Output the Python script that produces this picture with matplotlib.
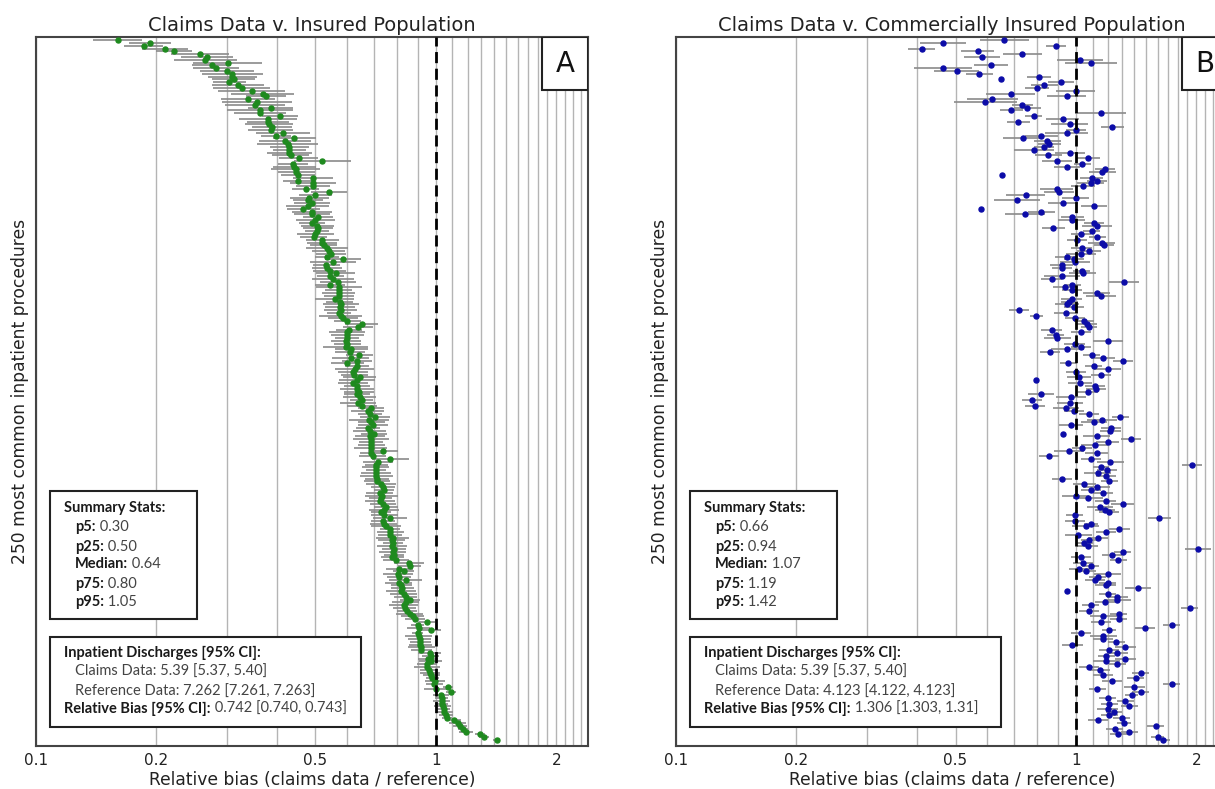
import matplotlib
matplotlib.use('Agg')
import matplotlib.pyplot as plt
from matplotlib.patches import Rectangle
import numpy as np

# relative bias per procedure, panel A (claims data v. insured population)
bias_a = [
    0.160, 0.193, 0.186, 0.210, 0.221, 0.257, 0.268, 0.265, 0.302, 0.275,
    0.282, 0.300, 0.310, 0.310, 0.312, 0.304, 0.320, 0.327, 0.346, 0.369,
    0.376, 0.339, 0.357, 0.353, 0.386, 0.363, 0.363, 0.407, 0.380, 0.380,
    0.383, 0.389, 0.386, 0.415, 0.399, 0.443, 0.420, 0.426, 0.430, 0.430,
    0.430, 0.433, 0.454, 0.520, 0.440, 0.443, 0.446, 0.448, 0.452, 0.493,
    0.452, 0.493, 0.493, 0.473, 0.540, 0.500, 0.483, 0.480, 0.490, 0.478,
    0.466, 0.490,
    0.490, 0.508, 0.500, 0.490, 0.505, 0.508, 0.505, 0.500, 0.495, 0.520,
    0.518, 0.524, 0.535, 0.540, 0.547, 0.535, 0.585, 0.553, 0.532, 0.535,
    0.543, 0.562, 0.545, 0.553, 0.568, 0.543, 0.572, 0.572, 0.572, 0.572,
    0.558, 0.575, 0.578, 0.575, 0.578, 0.572, 0.578, 0.585, 0.600, 0.653,
    0.640, 0.606, 0.600, 0.600, 0.600, 0.595, 0.600, 0.595, 0.615, 0.610,
    0.643, 0.612, 0.635, 0.600, 0.635, 0.627, 0.620, 0.625, 0.645, 0.635,
    0.620, 0.635, 0.635,
    0.643, 0.635, 0.645, 0.652, 0.640, 0.652, 0.688, 0.676, 0.684, 0.703,
    0.680, 0.690, 0.695, 0.676, 0.684, 0.700, 0.684, 0.688, 0.688, 0.690,
    0.688, 0.737, 0.690, 0.695, 0.770, 0.716, 0.710, 0.707, 0.707, 0.710,
    0.710, 0.712, 0.712, 0.730, 0.737, 0.743, 0.724, 0.733, 0.727, 0.724,
    0.737, 0.750, 0.740, 0.730, 0.743, 0.768, 0.737, 0.740, 0.750, 0.768,
    0.770, 0.767, 0.780, 0.776, 0.780, 0.778, 0.786, 0.780, 0.787, 0.778,
    0.795, 0.857,
    0.860, 0.810, 0.830, 0.804, 0.808, 0.840, 0.808, 0.820, 0.825, 0.820,
    0.830, 0.840, 0.860, 0.840, 0.830, 0.835, 0.847, 0.860, 0.875, 0.885,
    0.950, 0.900, 0.905, 0.970, 0.900, 0.905, 0.910, 0.915, 0.915, 0.920,
    0.920, 0.965, 0.970, 0.955, 0.970, 0.952, 0.950, 0.960, 0.965, 0.975,
    0.980, 0.995, 0.990, 1.070, 1.000, 1.090, 1.030, 1.033, 1.035, 1.033,
    1.040, 1.045, 1.050, 1.060, 1.065, 1.110, 1.135, 1.150, 1.170, 1.190,
    1.290, 1.320, 1.420,
]
# CI half-width, percent (multiplicative)
err_a = [
    15, 13, 12, 14, 11, 18, 16, 20, 22, 12, 14, 17, 19, 15, 13, 10, 16, 18, 21, 20,
    12, 17, 22, 19, 14, 21, 16, 11, 18, 13, 15, 12, 14, 17, 9, 13, 16, 19, 12, 10,
    14, 11, 12, 18, 9, 13, 15, 11, 10, 12, 9, 14, 10, 8, 11, 10, 12, 9, 11, 13,
    10, 12,
    11, 9, 12, 8, 10, 9, 7, 11, 8, 10, 9, 8, 13, 10, 9, 7, 11, 14, 8, 9,
    10, 12, 8, 13, 11, 9, 14, 8, 10, 9, 12, 8, 11, 9, 10, 7, 13, 9, 8, 10,
    9, 8, 11, 10, 7, 9, 8, 14, 10, 9, 8, 11, 9, 10, 7, 12, 9, 8, 10, 11,
    9, 8, 10,
    9, 8, 10, 7, 11, 9, 8, 10, 7, 9, 12, 8, 9, 7, 10, 8, 9, 11, 7, 8,
    10, 9, 7, 8, 11, 9, 7, 8, 6, 9, 10, 7, 8, 9, 7, 6, 8, 10, 7, 9,
    8, 7, 9, 6, 8, 10, 7, 8, 9, 6, 8, 7, 10, 8, 6, 9, 7, 8, 6, 7,
    8, 9,
    7, 8, 6, 9, 7, 10, 8, 6, 7, 9, 8, 7, 6, 8, 9, 7, 6, 8, 7, 6,
    5, 4, 7, 6, 3, 8, 7, 6, 7, 8, 6, 7, 5, 6, 7, 6, 8, 5, 6, 5,
    4, 6, 5, 3, 7, 3, 5, 4, 5, 4, 5, 4, 5, 4, 3, 4, 5, 4, 3, 4,
    3, 3, 2,
]

# panel B (claims data v. commercially insured population), same procedure order
bias_b = [
    0.662, 0.465, 0.891, 0.411, 0.568, 0.735, 0.581, 1.025, 1.092, 0.613,
    0.465, 0.503, 0.573, 0.808, 0.648, 0.917, 0.833, 0.800, 0.998, 0.687,
    0.948, 0.618, 0.594, 0.735, 0.755, 0.690, 1.153, 0.785, 0.926, 0.718,
    0.964, 1.233, 1.000, 0.948, 0.818, 0.738, 0.848, 0.858, 0.833, 0.785,
    0.966, 0.853, 1.073, 0.898, 1.037, 0.950, 1.180, 1.164, 0.654, 1.094,
    1.127, 1.089, 1.042, 0.895, 0.907, 0.749, 0.998, 0.713, 0.929, 1.110,
    0.579, 0.820,
    0.745, 0.979, 0.975, 1.109, 1.130, 0.878, 1.094, 1.028, 1.130, 1.008,
    1.159, 1.175, 1.033, 1.079, 1.028, 0.948, 0.989, 0.994, 0.921, 0.924,
    1.033, 1.039, 0.921, 0.869, 1.320, 0.979, 0.940, 0.979, 1.127, 1.153,
    0.975, 0.962, 0.951, 0.990, 0.721, 0.944, 0.796, 0.996, 1.047, 1.063,
    1.078, 0.869, 1.028, 0.891, 0.898, 1.200, 0.992, 1.028, 0.951, 0.861,
    1.094, 1.170, 1.313, 0.957, 1.109, 1.200, 1.000, 1.157, 1.017, 0.794,
    1.025, 1.115,
    1.120, 1.074, 0.818, 0.972, 0.778, 0.966, 0.790, 0.944, 0.989, 1.078,
    1.290, 1.159, 1.110, 0.973, 1.223, 1.220, 0.926, 1.127, 1.373, 1.200,
    1.115, 1.037, 0.960, 1.127, 0.858, 1.090, 1.218, 1.950, 1.155, 1.196,
    1.133, 1.190, 0.921, 1.211, 1.049, 1.127, 1.090, 1.170, 0.998, 1.069,
    1.186, 1.309, 1.148, 1.180, 1.210, 0.994, 1.616, 0.994, 1.090, 1.058,
    1.285, 1.190, 1.013, 1.133, 1.078, 1.049, 1.069, 2.020, 1.310, 1.233,
    1.030, 1.276, 1.040,
    1.090, 1.020, 1.060, 1.200, 1.133, 1.115, 1.200, 1.186, 1.430, 0.948,
    1.200, 1.270, 1.270, 1.180, 1.090, 1.923, 1.080, 1.280, 1.170, 1.280,
    1.155, 1.734, 1.488, 1.210, 1.030, 1.170, 1.170, 1.260, 0.980, 1.330,
    1.210, 1.270, 1.190, 1.330, 1.190, 1.270, 1.080, 1.148, 1.454, 1.170,
    1.410, 1.230, 1.734, 1.400, 1.130, 1.454, 1.377, 1.200, 1.330, 1.210,
    1.360, 1.200, 1.245, 1.210, 1.300, 1.133, 1.320, 1.585, 1.250, 1.360,
    1.276, 1.600, 1.653,
]
err_b = [
    15, 14, 6, 8, 10, 12, 11, 14, 16, 10, 18, 14, 8, 7, 0, 8, 8, 7, 12, 15,
    12, 16, 20, 6, 8, 7, 16, 5, 10, 7, 11, 7, 6, 13, 10, 12, 8, 7, 6, 12,
    9, 8, 7, 9, 5, 8, 6, 8, 0, 7, 6, 8, 7, 10, 9, 12, 8, 14, 9, 8,
    0, 8,
    12, 7, 8, 6, 9, 7, 5, 6, 5, 6, 8, 6, 6, 7, 9, 7, 6, 9, 7, 6,
    5, 8, 11, 6, 9, 5, 7, 6, 8, 9, 6, 5, 7, 6, 6, 7, 4, 6, 6, 6,
    5, 6, 6, 5, 8, 9, 6, 6, 10, 6, 5, 7, 6, 5, 5, 8, 6, 6, 7, 0,
    7, 6,
    6, 6, 8, 9, 6, 8, 6, 8, 6, 6, 5, 9, 8, 7, 6, 6, 0, 8, 6, 7,
    8, 6, 9, 7, 6, 6, 8, 6, 5, 6, 8, 6, 6, 5, 7, 8, 6, 6, 8, 9,
    6, 7, 8, 6, 6, 5, 7, 6, 4, 8, 6, 6, 8, 6, 5, 5, 6, 8, 5, 6,
    6, 5, 6,
    5, 6, 6, 8, 5, 6, 5, 6, 8, 0, 5, 6, 8, 6, 5, 5, 6, 5, 8, 5,
    6, 5, 6, 4, 6, 8, 6, 5, 6, 6, 6, 6, 5, 6, 8, 5, 6, 6, 5, 6,
    5, 6, 5, 6, 5, 5, 4, 5, 5, 5, 5, 6, 5, 5, 5, 6, 4, 5, 5, 5,
    5, 4, 4,
]

titles = ['Claims Data v. Insured Population', 'Claims Data v. Commercially Insured Population']
panel_letters = ['A', 'B']
colors = ['#1f8a1f', '#0c0ca8']
stats_labels = ['p5:', 'p25:', 'Median:', 'p75:', 'p95:']
stats_a = ['0.30', '0.50', '0.64', '0.80', '1.05']
stats_b = ['0.66', '0.94', '1.07', '1.19', '1.42']
claims_text = ['Claims Data: 5.39 [5.37, 5.40]', 'Claims Data: 5.39 [5.37, 5.40]']
ref_text = ['Reference Data: 7.262 [7.261, 7.263]', 'Reference Data: 4.123 [4.122, 4.123]']
rel_bias = ['0.742 [0.740, 0.743]', '1.306 [1.303, 1.31]']

tick_vals = [0.1, 0.2, 0.5, 1, 2]
tick_labels = ['0.1', '0.2', '0.5', '1', '2']
grid_vals = [0.2, 0.3, 0.4, 0.5, 0.6, 0.7, 0.8, 0.9, 1.0, 1.1, 1.2, 1.3, 1.4, 1.5,
             1.6, 1.7, 1.8, 1.9, 2.0, 2.1, 2.2, 2.3]

box_font = 'Lato'
txt_col = '#1a1a1a'
val_col = '#444444'
box_size = 10.5


def label_value(ax, x, y, label, value, bold=True):
    t = ax.text(x, y, label, transform=ax.transAxes, fontsize=box_size, family=box_font,
                fontweight='bold' if bold else 'normal',
                color=txt_col if bold else val_col, va='center', zorder=6)
    if value:
        ax.annotate(' ' + value, xy=(1, 0), xycoords=t, va='bottom', ha='left',
                    fontsize=box_size, family=box_font, color=val_col, zorder=6)


fig = plt.figure(figsize=(12.15, 7.89), dpi=100)
axes = [fig.add_axes([0.0296, 0.0545, 0.4543, 0.8986]),
        fig.add_axes([0.5564, 0.0545, 0.4543, 0.8986])]

data = [(bias_a, err_a, stats_a), (bias_b, err_b, stats_b)]
for k, ax in enumerate(axes):
    vals, errs, stats = data[k]
    vals = np.array(vals)
    p = np.array(errs) / 100.0
    ypos = np.arange(len(vals))
    lo = vals - vals / (1 + p)
    hi = vals * (1 + p) - vals
    ax.errorbar(vals, ypos, xerr=[lo, hi], fmt='none', ecolor='#8a8a8a', elinewidth=1.2,
                capsize=0, zorder=2)
    ax.plot(vals, ypos, 'o', color=colors[k], ms=3.6, mec=colors[k], zorder=3)

    ax.set_xscale('log')
    ax.set_xlim(0.1, 2.4)
    ax.set_ylim(251.1, -1.1)
    ax.set_xticks(tick_vals)
    ax.set_xticklabels(tick_labels)
    ax.set_xticks(grid_vals, minor=True)
    ax.xaxis.set_minor_formatter(plt.NullFormatter())
    ax.tick_params(axis='x', which='both', length=0, labelsize=11, pad=5, colors='#222222')
    ax.set_yticks([])
    ax.grid(True, axis='x', which='both', color='#b4b4b4', lw=1.0, zorder=0)
    ax.set_axisbelow(True)
    ax.axvline(1.0, color='black', lw=2, ls=(0, (4, 2)), zorder=4)
    for s in ax.spines.values():
        s.set_color('#444444')
        s.set_linewidth(1.5)

    ax.set_title(titles[k], fontsize=14, pad=4, color='#222222')
    ax.set_xlabel('Relative bias (claims data / reference)', fontsize=12.3, labelpad=2,
                  color='#222222')
    ax.set_ylabel('250 most common inpatient procedures', fontsize=12.3, labelpad=5,
                  color='#222222')

    # panel letter box
    ax.add_patch(Rectangle((0.917, 0.925), 0.083, 0.075, transform=ax.transAxes,
                           facecolor='white', edgecolor='#222222', lw=1.5, zorder=5))
    ax.text(0.9585, 0.9625, panel_letters[k], transform=ax.transAxes, fontsize=20,
            ha='center', va='center', color='#111111', zorder=6)

    # summary stats box
    ax.add_patch(Rectangle((0.025, 0.179), 0.266, 0.181, transform=ax.transAxes,
                           facecolor='white', edgecolor='#222222', lw=1.5, zorder=5))
    label_value(ax, 0.051, 0.336, 'Summary Stats:', '')
    stat_y = [0.309, 0.281, 0.257, 0.229, 0.203]
    for lab, v, yy in zip(stats_labels, stats, stat_y):
        label_value(ax, 0.071, yy, lab, v)

    # discharges box
    ax.add_patch(Rectangle((0.025, 0.027), 0.563, 0.127, transform=ax.transAxes,
                           facecolor='white', edgecolor='#222222', lw=1.5, zorder=5))
    label_value(ax, 0.051, 0.131, 'Inpatient Discharges [95% CI]:', '')
    label_value(ax, 0.071, 0.104, claims_text[k], '', bold=False)
    label_value(ax, 0.071, 0.077, ref_text[k], '', bold=False)
    label_value(ax, 0.051, 0.052, 'Relative Bias [95% CI]:', rel_bias[k])

fig.savefig('out.png', dpi=100)
